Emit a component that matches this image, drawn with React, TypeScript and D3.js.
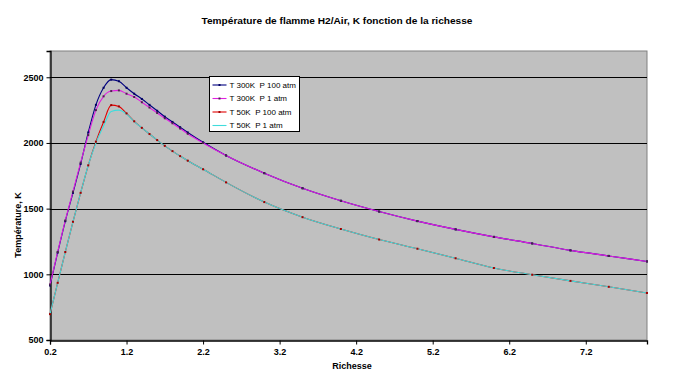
import React, { useEffect, useRef } from "react";
import * as d3 from "d3";

// richesse (x) values shared by all series
const richesse = [
  0.2, 0.3, 0.4, 0.5, 0.6, 0.7, 0.8, 0.9, 1.0, 1.1, 1.2, 1.3, 1.4, 1.5, 1.6, 1.7, 1.8, 1.9, 2.0,
  2.2, 2.5, 3.0, 3.5, 4.0, 4.5, 5.0, 5.5, 6.0, 6.5, 7.0, 7.5, 8.0,
];

const t300p100 = [
  915, 1165, 1405, 1620, 1840, 2080, 2290, 2420, 2482, 2470, 2420, 2375, 2335, 2290, 2245, 2200, 2160, 2120, 2080,
  2005, 1905, 1770, 1655, 1560, 1478, 1405, 1342, 1285, 1235, 1182, 1140, 1098,
];
const t300p1 = [
  922, 1170, 1410, 1630, 1850, 2060, 2250, 2355, 2395, 2400, 2375, 2350, 2310, 2270, 2228, 2188, 2150, 2110, 2070,
  2000, 1905, 1770, 1655, 1560, 1478, 1405, 1342, 1285, 1235, 1182, 1140, 1098,
];
const t50p100 = [
  697, 935, 1170, 1400, 1620, 1830, 2010, 2160, 2288, 2278, 2225, 2165, 2115, 2068, 2022, 1978, 1938, 1900, 1865,
  1800, 1700, 1550, 1435, 1345, 1265, 1195, 1122, 1048, 997, 950, 905, 858,
];
const t50p1 = [
  697, 935, 1170, 1400, 1620, 1830, 2000, 2130, 2240, 2250, 2220, 2163, 2115, 2068, 2022, 1978, 1938, 1900, 1865,
  1800, 1700, 1550, 1435, 1345, 1265, 1195, 1122, 1048, 997, 950, 905, 858,
];

const seriesNames = ["T 300K  P 100 atm", "T 300K  P 1 atm", "T 50K  P 100 atm", "T 50K  P 1 atm"];
const yTicks = [500, 1000, 1500, 2000, 2500];
const xTicks = [0.2, 1.2, 2.2, 3.2, 4.2, 5.2, 6.2, 7.2];

const title = "Température de flamme H2/Air, K fonction de la richesse";
const xTitle = "Richesse";
const yTitle = "Température, K";

const App = () => {
  const svgRef = useRef<SVGSVGElement>(null);

  useEffect(() => {
    const width = 678;
    const height = 386;
    const margin = { top: 51, right: 31, bottom: 46, left: 50 };
    const font = "'Liberation Sans', Arial, sans-serif";

    const svg = d3.select(svgRef.current);
    svg.selectAll("*").remove();
    svg.attr("width", width).attr("height", height);

    svg.append("rect").attr("width", width).attr("height", height).attr("fill", "#fff");

    const x = d3.scaleLinear().domain([0.2, 8.0]).range([margin.left, width - margin.right]);
    const y = d3.scaleLinear().domain([500, 2700]).range([height - margin.bottom, margin.top]);

    // plot area
    svg.append("rect")
      .attr("x", x(0.2))
      .attr("y", y(2700))
      .attr("width", x(8.0) - x(0.2))
      .attr("height", y(500) - y(2700))
      .attr("fill", "#c0c0c0")
      .attr("stroke", "#808080")
      .attr("stroke-width", 1);

    // gridlines
    svg.append("g")
      .selectAll("line")
      .data(yTicks.slice(1))
      .enter()
      .append("line")
      .attr("x1", x(0.2))
      .attr("x2", x(8.0))
      .attr("y1", d => Math.round(y(d)) + 0.5)
      .attr("y2", d => Math.round(y(d)) + 0.5)
      .attr("stroke", "#000")
      .attr("stroke-width", 1);

    // axes
    const yAxis = svg.append("g")
      .attr("transform", `translate(${Math.round(x(0.2)) + 0.5},0)`)
      .call(d3.axisLeft(y).tickValues(yTicks).tickSize(4).tickPadding(3).tickFormat(d3.format("d")));
    const xAxis = svg.append("g")
      .attr("transform", `translate(0,${Math.round(y(500)) + 0.5})`)
      .call(d3.axisBottom(x).tickValues(xTicks).tickSize(4).tickPadding(4).tickFormat(d3.format(".1f")));

    [yAxis, xAxis].forEach(a => {
      a.select(".domain").attr("stroke", "#000").attr("stroke-width", 1.3);
      a.selectAll(".tick line").attr("stroke", "#000");
      a.selectAll("text")
        .attr("fill", "#000")
        .style("font-family", font)
        .style("font-size", "9px")
        .style("font-weight", "bold");
    });

    const series = [
      { name: seriesNames[0], values: t300p100, color: "#000080", marker: "#000060" },
      { name: seriesNames[1], values: t300p1, color: "#e020e0", marker: "#502050" },
      { name: seriesNames[2], values: t50p100, color: "#e00000", marker: "#a00000" },
      { name: seriesNames[3], values: t50p1, color: "#40dcdc", marker: null },
    ];

    const line = d3.line<number>()
      .x((d, i) => x(richesse[i]))
      .y(d => y(d))
      .curve(d3.curveMonotoneX);

    series.forEach(s => {
      svg.append("path")
        .datum(s.values)
        .attr("fill", "none")
        .attr("stroke", s.color)
        .attr("stroke-width", 1.1)
        .attr("d", line);
    });

    series.forEach((s, k) => {
      if (!s.marker) return;
      svg.selectAll(`.dot-${k}`)
        .data(s.values)
        .enter()
        .append("rect")
        .attr("x", (d, i) => x(richesse[i]) - 1)
        .attr("y", d => y(d) - 1)
        .attr("width", 2)
        .attr("height", 2)
        .attr("fill", s.marker);
    });

    // legend
    const lg = svg.append("g").attr("transform", "translate(209.5,76.5)");
    lg.append("rect").attr("width", 90).attr("height", 55).attr("fill", "#fff").attr("stroke", "#000");
    series.forEach((s, i) => {
      const yy = 8.5 + i * 13.5;
      lg.append("line")
        .attr("x1", 3).attr("x2", 17)
        .attr("y1", yy).attr("y2", yy)
        .attr("stroke", s.color)
        .attr("stroke-width", 1.1);
      if (s.marker) {
        lg.append("rect").attr("x", 9).attr("y", yy - 1).attr("width", 2).attr("height", 2).attr("fill", s.marker);
      }
      lg.append("text")
        .attr("x", 20)
        .attr("y", yy)
        .attr("dy", "0.35em")
        .style("font-family", font)
        .style("font-size", "8px")
        .style("white-space", "pre")
        .attr("fill", "#000")
        .text(s.name);
    });

    // titles
    svg.append("text")
      .attr("x", 337)
      .attr("y", 21)
      .attr("text-anchor", "middle")
      .attr("dy", "0.35em")
      .style("font-family", font)
      .style("font-size", "9.5px")
      .style("font-weight", "bold")
      .attr("textLength", 271)
      .attr("lengthAdjust", "spacingAndGlyphs")
      .text(title);

    svg.append("text")
      .attr("x", 352)
      .attr("y", 366)
      .attr("text-anchor", "middle")
      .attr("dy", "0.35em")
      .style("font-family", font)
      .style("font-size", "9px")
      .style("font-weight", "bold")
      .text(xTitle);

    svg.append("text")
      .attr("transform", "translate(18,225) rotate(-90)")
      .attr("text-anchor", "middle")
      .attr("dy", "0.35em")
      .style("font-family", font)
      .style("font-size", "9px")
      .style("font-weight", "bold")
      .text(yTitle);
  }, []);

  return <svg ref={svgRef} style={{ position: "absolute", left: 0, top: 0 }}></svg>;
};

export default App;
